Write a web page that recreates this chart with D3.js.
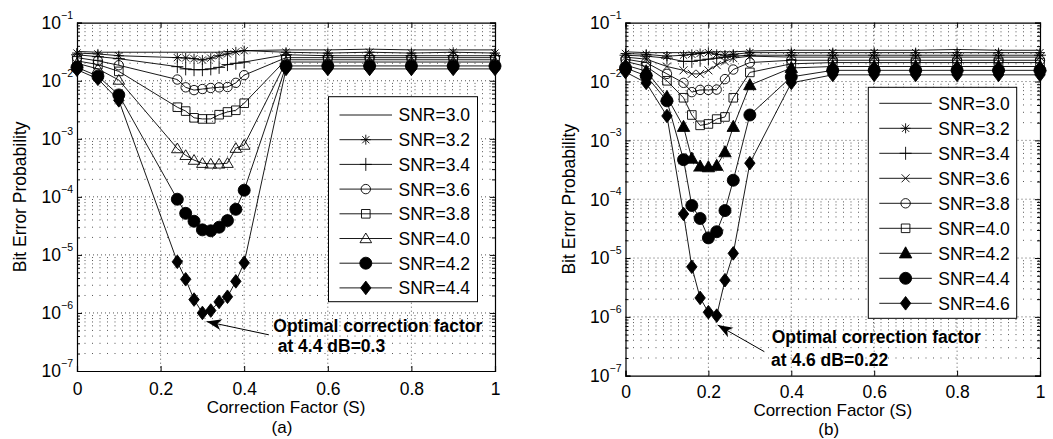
<!DOCTYPE html>
<html>
<head>
<meta charset="utf-8">
<script src="https://cdn.jsdelivr.net/npm/d3@7/dist/d3.min.js"></script>
<style>
  body { margin: 0; background: #fff; }
  svg text { font-family: "Liberation Sans", Arial, Helvetica, sans-serif; fill: #000; }
</style>
</head>
<body>
<svg id="chart" width="1053" height="439"></svg>
<script>
// ---- data: panel (a) ----
const S_A = [0, 0.05, 0.1, 0.24, 0.26, 0.28, 0.30, 0.32, 0.34, 0.36, 0.38, 0.40, 0.5, 0.6, 0.7, 0.8, 0.9, 1.0];
const BER_A_30 = [0.032, 0.031, 0.031, 0.031, 0.031, 0.031, 0.031, 0.031, 0.031, 0.032, 0.032, 0.033, 0.034, 0.034, 0.035, 0.034, 0.034, 0.034];
const BER_A_32 = [0.030, 0.029, 0.027, 0.025, 0.0247, 0.024, 0.0228, 0.0245, 0.027, 0.029, 0.0315, 0.033, 0.031, 0.030, 0.031, 0.030, 0.031, 0.030];
const BER_A_34 = [0.028, 0.026, 0.024, 0.0175, 0.016, 0.0155, 0.0155, 0.016, 0.017, 0.019, 0.020, 0.021, 0.028, 0.027, 0.027, 0.027, 0.027, 0.027];
const BER_A_36 = [0.025, 0.022, 0.0185, 0.0105, 0.0077, 0.0069, 0.0072, 0.0075, 0.0077, 0.0078, 0.0092, 0.0125, 0.025, 0.025, 0.025, 0.025, 0.025, 0.025];
const BER_A_38 = [0.022, 0.019, 0.0145, 0.0035, 0.0030, 0.0023, 0.0022, 0.0022, 0.0026, 0.0029, 0.0031, 0.0041, 0.023, 0.023, 0.023, 0.023, 0.023, 0.023];
const BER_A_40 = [0.020, 0.016, 0.0103, 6.8e-4, 5.2e-4, 4.3e-4, 3.8e-4, 3.7e-4, 3.7e-4, 3.8e-4, 6.9e-4, 7.8e-4, 0.021, 0.021, 0.021, 0.021, 0.021, 0.021];
const BER_A_42 = [0.017, 0.012, 0.0057, 9.1e-5, 5.2e-5, 3.8e-5, 2.7e-5, 2.6e-5, 3.0e-5, 3.9e-5, 6.1e-5, 1.3e-4, 0.018, 0.018, 0.018, 0.018, 0.018, 0.018];
const BER_A_44 = [0.0155, 0.0108, 0.0046, 7.6e-6, 3.8e-6, 1.7e-6, 1.0e-6, 1.1e-6, 1.55e-6, 1.9e-6, 3.5e-6, 7.3e-6, 0.016, 0.016, 0.016, 0.016, 0.016, 0.016];

// ---- data: panel (b) ----
const S_B = [0, 0.05, 0.1, 0.14, 0.16, 0.18, 0.20, 0.22, 0.24, 0.26, 0.3, 0.4, 0.5, 0.6, 0.7, 0.8, 0.9, 1.0];
const BER_B_30 = [0.032, 0.031, 0.031, 0.031, 0.031, 0.031, 0.032, 0.032, 0.032, 0.032, 0.033, 0.034, 0.034, 0.034, 0.034, 0.035, 0.034, 0.034];
const BER_B_32 = [0.030, 0.029, 0.027, 0.028, 0.029, 0.030, 0.031, 0.029, 0.028, 0.029, 0.031, 0.031, 0.031, 0.031, 0.031, 0.031, 0.031, 0.031];
const BER_B_34 = [0.028, 0.027, 0.025, 0.022, 0.022, 0.023, 0.024, 0.025, 0.026, 0.027, 0.028, 0.028, 0.028, 0.028, 0.028, 0.028, 0.028, 0.028];
const BER_B_36 = [0.026, 0.024, 0.018, 0.0155, 0.0135, 0.0135, 0.0155, 0.019, 0.022, 0.025, 0.027, 0.026, 0.026, 0.026, 0.026, 0.026, 0.026, 0.026];
const BER_B_38 = [0.024, 0.021, 0.0135, 0.0095, 0.0066, 0.0072, 0.0072, 0.0073, 0.011, 0.016, 0.021, 0.023, 0.023, 0.023, 0.023, 0.023, 0.023, 0.023];
const BER_B_40 = [0.022, 0.018, 0.0103, 0.0053, 0.0027, 0.0018, 0.0019, 0.0023, 0.0025, 0.0053, 0.0143, 0.020, 0.021, 0.021, 0.021, 0.021, 0.021, 0.021];
const BER_B_42 = [0.019, 0.015, 0.0055, 0.0017, 4.9e-4, 3.6e-4, 3.5e-4, 3.7e-4, 6.3e-4, 0.0017, 0.0087, 0.017, 0.018, 0.018, 0.018, 0.018, 0.018, 0.018];
const BER_B_44 = [0.017, 0.0125, 0.0047, 4.7e-4, 7.8e-5, 4.7e-5, 2.2e-5, 2.8e-5, 6.4e-5, 2.1e-4, 0.0027, 0.012, 0.0155, 0.0155, 0.0155, 0.0155, 0.0155, 0.0155];
const BER_B_46 = [0.0145, 0.0095, 0.0026, 5.6e-5, 7.1e-6, 2.1e-6, 1.2e-6, 1.05e-6, 4.2e-6, 1.2e-5, 4.1e-4, 0.0095, 0.013, 0.013, 0.013, 0.013, 0.013, 0.013];

const X_TICKS = [0, 0.2, 0.4, 0.6, 0.8, 1];
const Y_EXPONENTS = [-1, -2, -3, -4, -5, -6, -7];

const svg = d3.select("#chart");

// marker shapes (centered at 0,0)
const MARKERS = {
    none:    null,
    star:    {d: "M-5,0H5M0,-5V5M-3.6,-3.6L3.6,3.6M-3.6,3.6L3.6,-3.6", fill: "none"},
    plus:    {d: "M-6,0H6M0,-6.5V6.5", fill: "none"},
    cross:   {d: "M-4,-4L4,4M-4,4L4,-4", fill: "none"},
    circle:  {d: d3.symbol(d3.symbolCircle, Math.PI * 4.7 * 4.7)(), fill: "none"},
    square:  {d: "M-4.3,-4.3h8.6v8.6h-8.6z", fill: "none"},
    tri:     {d: "M0,-5.5L5.8,4.2L-5.8,4.2Z", fill: "none"},
    ftri:    {d: "M0,-6.5L6.2,4.6L-6.2,4.6Z", fill: "#000"},
    fcircle: {d: d3.symbol(d3.symbolCircle, Math.PI * 6 * 6)(), fill: "#000"},
    diamond: {d: "M0,-6.8L5.2,0L0,6.8L-5.2,0Z", fill: "#000"}
};

function drawMarker(g, type, cx, cy) {
    const m = MARKERS[type];
    if (!m) return;
    g.append("path")
        .attr("d", m.d)
        .attr("transform", `translate(${cx},${cy})`)
        .attr("fill", m.fill)
        .attr("stroke", "#000")
        .attr("stroke-width", 0.9);
}

function drawPanel(cfg) {
    const g = svg.append("g");
    const x = d3.scaleLinear().domain([0, 1]).range([cfg.x0, cfg.x1]);
    const y = d3.scaleLog().domain([1e-7, 1e-1]).range([cfg.y1, cfg.y0]);

    // grid: minor horizontal lines, then major
    const minor = [];
    for (let e = -7; e < -1; e++) {
        for (let k = 2; k <= 9; k++) minor.push(k * Math.pow(10, e));
    }
    g.append("g").selectAll("line").data(minor).join("line")
        .attr("x1", cfg.x0).attr("x2", cfg.x1)
        .attr("y1", d => y(d)).attr("y2", d => y(d))
        .attr("stroke", "#444").attr("stroke-width", 0.9)
        .attr("stroke-dasharray", "1,6.5");
    g.append("g").selectAll("line").data(Y_EXPONENTS.slice(1, -1)).join("line")
        .attr("x1", cfg.x0).attr("x2", cfg.x1)
        .attr("y1", d => y(Math.pow(10, d))).attr("y2", d => y(Math.pow(10, d)))
        .attr("stroke", "#444").attr("stroke-width", 0.9)
        .attr("stroke-dasharray", "1,3");
    g.append("g").selectAll("line").data(X_TICKS.slice(1, -1)).join("line")
        .attr("x1", d => x(d)).attr("x2", d => x(d))
        .attr("y1", cfg.y0).attr("y2", cfg.y1)
        .attr("stroke", "#444").attr("stroke-width", 0.9)
        .attr("stroke-dasharray", "1,3");

    // axes with inward ticks on all four sides
    const bottom = g.append("g").attr("transform", `translate(0,${cfg.y1})`)
        .call(d3.axisBottom(x).tickValues(X_TICKS).tickSize(-5).tickFormat(d3.format("")));
    const top = g.append("g").attr("transform", `translate(0,${cfg.y0})`)
        .call(d3.axisTop(x).tickValues(X_TICKS).tickSize(-5).tickFormat(""));
    const yMajor = Y_EXPONENTS.map(e => Math.pow(10, e));
    const left = g.append("g").attr("transform", `translate(${cfg.x0},0)`)
        .call(d3.axisLeft(y).tickValues(yMajor).tickSize(-5).tickFormat(""));
    const right = g.append("g").attr("transform", `translate(${cfg.x1},0)`)
        .call(d3.axisRight(y).tickValues(yMajor).tickSize(-5).tickFormat(""));
    g.append("g").attr("transform", `translate(${cfg.x0},0)`)
        .call(d3.axisLeft(y).tickValues(minor).tickSize(-3).tickFormat(""))
        .select(".domain").remove();
    g.append("g").attr("transform", `translate(${cfg.x1},0)`)
        .call(d3.axisRight(y).tickValues(minor).tickSize(-3).tickFormat(""))
        .select(".domain").remove();
    [bottom, top, left, right].forEach(a => a.select(".domain").attr("stroke-width", 1.2));
    g.selectAll(".tick line").attr("stroke", "#000");
    bottom.selectAll("text")
        .attr("y", cfg.tickY).attr("dy", "0.75em")
        .style("font-size", "17.5px").style("font-family", null);

    // y tick labels 10^e
    yMajor.forEach((v, i) => {
        const t = g.append("text")
            .attr("x", cfg.x0 - 4)
            .attr("y", y(v) + 6.3)
            .attr("text-anchor", "end")
            .style("font-size", "17.5px")
            .text("10");
        t.append("tspan")
            .attr("dy", -10.5)
            .style("font-size", "10.5px")
            .text("\u2212" + (-Y_EXPONENTS[i]));
    });

    // series
    const line = d3.line().x(d => x(d[0])).y(d => y(d[1]));
    cfg.series.forEach(s => {
        const pts = cfg.s.map((sv, i) => [sv, s.v[i]]);
        g.append("path").datum(pts)
            .attr("d", line)
            .attr("fill", "none")
            .attr("stroke", "#000")
            .attr("stroke-width", 0.9);
        pts.forEach(p => drawMarker(g, s.m, x(p[0]), y(p[1])));
    });

    // legend
    const L = cfg.legend;
    g.append("rect")
        .attr("x", L.x).attr("y", L.y).attr("width", L.w).attr("height", L.h)
        .attr("fill", "#fff").attr("stroke", "#000").attr("stroke-width", 1);
    cfg.series.forEach((s, i) => {
        const ry = L.y + L.row0 + i * L.step;
        g.append("line")
            .attr("x1", L.x + 11).attr("x2", L.x + 63.5)
            .attr("y1", ry).attr("y2", ry)
            .attr("stroke", "#000").attr("stroke-width", 0.9);
        drawMarker(g, s.m, L.x + 37.3, ry);
        g.append("text")
            .attr("x", L.x + 70).attr("y", ry + 6.4)
            .style("font-size", "17.5px")
            .text("SNR=" + s.snr);
    });

    // axis titles
    g.append("text")
        .attr("x", (cfg.x0 + cfg.x1) / 2).attr("y", cfg.xlabY)
        .attr("text-anchor", "middle").style("font-size", "17px")
        .text("Correction Factor (S)");
    g.append("text")
        .attr("x", (cfg.x0 + cfg.x1) / 2 - 4).attr("y", cfg.tagY)
        .attr("text-anchor", "middle").style("font-size", "17px")
        .text(cfg.tag);
    g.append("text")
        .attr("transform", `translate(${cfg.ylabX},${(cfg.y0 + cfg.y1) / 2}) rotate(-90)`)
        .attr("text-anchor", "middle").style("font-size", "17.5px")
        .text("Bit Error Probability");

    // annotation arrow + text
    const A = cfg.note;
    const sx = x(A.from[0]), sy = y(A.from[1]);
    const tx = x(A.to[0]), ty = y(A.to[1]);
    const ang = Math.atan2(ty - sy, tx - sx);
    g.append("line")
        .attr("x1", sx).attr("y1", sy).attr("x2", tx).attr("y2", ty)
        .attr("stroke", "#000").attr("stroke-width", 1);
    g.append("path")
        .attr("d", "M0,0L-15,-5.5L-11,0L-15,5.5Z")
        .attr("transform", `translate(${tx},${ty}) rotate(${ang * 180 / Math.PI})`)
        .attr("fill", "#000");
    A.lines.forEach((txt, i) => {
        g.append("text")
            .attr("x", A.tx[i]).attr("y", A.ty[i])
            .style("font-size", "17.5px").style("font-weight", "bold")
            .text(txt);
    });
}

drawPanel({
    x0: 77, x1: 495, y0: 22.7, y1: 371, ylabX: 26, tag: "(a)",
    tickY: 10.5, xlabY: 413, tagY: 432.5,
    s: S_A,
    series: [
        {snr: "3.0", v: BER_A_30, m: "none"},
        {snr: "3.2", v: BER_A_32, m: "star"},
        {snr: "3.4", v: BER_A_34, m: "plus"},
        {snr: "3.6", v: BER_A_36, m: "circle"},
        {snr: "3.8", v: BER_A_38, m: "square"},
        {snr: "4.0", v: BER_A_40, m: "tri"},
        {snr: "4.2", v: BER_A_42, m: "fcircle"},
        {snr: "4.4", v: BER_A_44, m: "diamond"}
    ],
    legend: {x: 328.5, y: 96.7, w: 149, h: 205, row0: 18.3, step: 24.7},
    note: {from: [0.459, 4.2e-7], to: [0.310, 7.1e-7],
           lines: ["Optimal correction factor", "at 4.4 dB=0.3"],
           tx: [273.3, 277.7], ty: [331.7, 352]}
});

drawPanel({
    x0: 625.5, x1: 1040, y0: 22.7, y1: 375.7, ylabX: 575, tag: "(b)",
    tickY: 9.2, xlabY: 415.5, tagY: 434.5,
    s: S_B,
    series: [
        {snr: "3.0", v: BER_B_30, m: "none"},
        {snr: "3.2", v: BER_B_32, m: "star"},
        {snr: "3.4", v: BER_B_34, m: "plus"},
        {snr: "3.6", v: BER_B_36, m: "cross"},
        {snr: "3.8", v: BER_B_38, m: "circle"},
        {snr: "4.0", v: BER_B_40, m: "square"},
        {snr: "4.2", v: BER_B_42, m: "ftri"},
        {snr: "4.4", v: BER_B_44, m: "fcircle"},
        {snr: "4.6", v: BER_B_46, m: "diamond"}
    ],
    legend: {x: 868.3, y: 87.3, w: 148.4, h: 231, row0: 16, step: 25},
    note: {from: [0.335, 2.56e-7], to: [0.2224, 7.26e-7],
           lines: ["Optimal correction factor", "at 4.6 dB=0.22"],
           tx: [771.7, 771], ty: [343.3, 365.7]}
});
</script>
</body>
</html>
